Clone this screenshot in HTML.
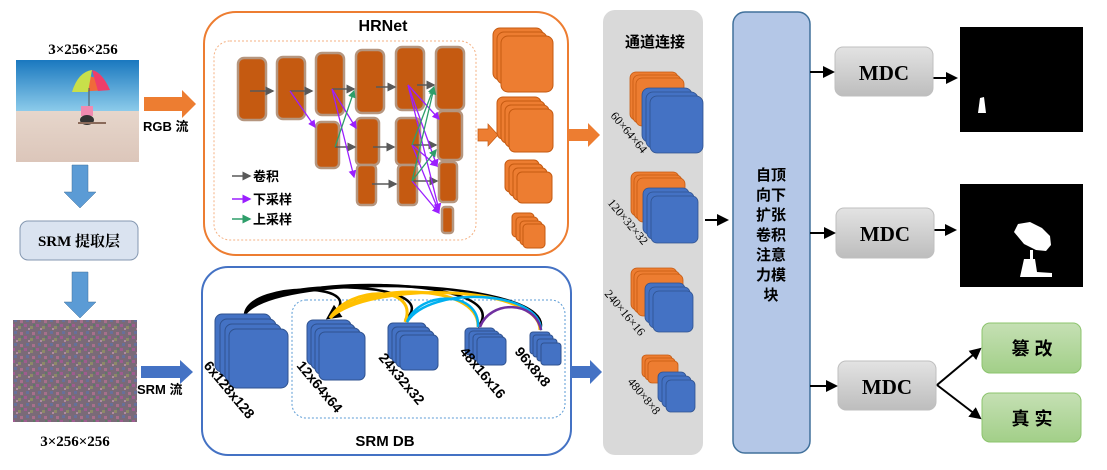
<!DOCTYPE html>
<html><head><meta charset="utf-8"><style>
html,body{margin:0;padding:0;background:#fff;}
svg{display:block;}
text{font-family:"Liberation Sans","Noto Sans CJK SC",sans-serif;font-weight:bold;}
.serif, .serif text, text.serif{font-family:"Liberation Serif","Noto Serif CJK SC",serif;}
.norm text{font-weight:normal;}
</style></head><body>
<svg width="1107" height="470" viewBox="0 0 1107 470" xmlns="http://www.w3.org/2000/svg">
<defs>
<marker id="ag" markerWidth="6" markerHeight="6" refX="5" refY="3" orient="auto"><path d="M0,0L6,3L0,6z" fill="#595959"/></marker>
<marker id="ap" markerWidth="6" markerHeight="6" refX="5" refY="3" orient="auto"><path d="M0,0L6,3L0,6z" fill="#9b1fff"/></marker>
<marker id="agr" markerWidth="6" markerHeight="6" refX="5" refY="3" orient="auto"><path d="M0,0L6,3L0,6z" fill="#2e9e6a"/></marker>
<marker id="ak" markerWidth="6" markerHeight="6" refX="5" refY="3" orient="auto"><path d="M0,0L6,3L0,6z" fill="#000"/></marker>
<linearGradient id="gm" x1="0" y1="0" x2="0" y2="1"><stop offset="0" stop-color="#e3e3e3"/><stop offset="1" stop-color="#bdbdbd"/></linearGradient>
<linearGradient id="gg" x1="0" y1="0" x2="0" y2="1"><stop offset="0" stop-color="#c5e0b4"/><stop offset="1" stop-color="#a2cf88"/></linearGradient>
<linearGradient id="sky" x1="0" y1="0" x2="0" y2="1"><stop offset="0" stop-color="#1a78bf"/><stop offset="0.5" stop-color="#8ccbea"/><stop offset="0.5" stop-color="#e6d6cb"/><stop offset="1" stop-color="#dcc6ba"/></linearGradient>
<pattern id="noise" width="12" height="12" patternUnits="userSpaceOnUse">
<rect width="12" height="12" fill="#7a6a78"/><rect x="0" y="0" width="3" height="3" fill="#a05c90"/><rect x="6" y="2" width="3" height="3" fill="#8c8a68"/><rect x="2" y="7" width="3" height="3" fill="#67709a"/><rect x="8" y="8" width="3" height="3" fill="#a8708c"/><rect x="9" y="0" width="2" height="2" fill="#5e7a66"/><rect x="4" y="4" width="2" height="2" fill="#b08aa0"/></pattern>
</defs>

<!-- LEFT -->
<text x="83" y="54" text-anchor="middle" font-size="15" class="serif">3×256×256</text>
<rect x="16" y="60" width="123" height="102" fill="url(#sky)"/>
<path d="M72,92 Q86,62 110,90 Z" fill="#f06a3a"/><path d="M72,92 Q78,72 92,70 L88,92 Z" fill="#c8e04a"/><path d="M92,70 Q102,72 110,90 L98,91 Z" fill="#ee3e6a"/>
<line x1="89" y1="88" x2="89" y2="112" stroke="#555"/>
<rect x="81" y="106" width="12" height="10" fill="#f08ab0"/><ellipse cx="87" cy="120" rx="7" ry="5" fill="#333"/>
<rect x="78" y="122" width="28" height="2" fill="#8a6a5a"/>
<polygon points="72,165 88,165 88,192 96,192 80,208 64,192 72,192" fill="#5b9bd5" stroke="#41719c" stroke-width="0.5"/>
<rect x="20" y="221" width="118" height="39" rx="8" fill="#dae3f0" stroke="#8497b0"/>
<text x="79" y="246" text-anchor="middle" font-size="15" class="serif">SRM 提取层</text>
<polygon points="72,272 88,272 88,302 96,302 80,318 64,302 72,302" fill="#5b9bd5" stroke="#41719c" stroke-width="0.5"/>
<rect x="13" y="320" width="124" height="102" fill="url(#noise)"/>
<text x="75" y="446" text-anchor="middle" font-size="15" class="serif">3×256×256</text>
<polygon points="144,97 182,97 182,90 196,104 182,118 182,111 144,111" fill="#ed7d31"/>
<text x="143" y="131" font-size="13">RGB 流</text>
<polygon points="141,366 180,366 180,360 193,372 180,384 180,378 141,378" fill="#4472c4"/>
<text x="137" y="394" font-size="13">SRM 流</text>

<!-- HRNet -->
<rect x="204" y="12" width="364" height="243" rx="32" fill="#fff" stroke="#ed7d31" stroke-width="2"/>
<text x="383" y="31" text-anchor="middle" font-size="16">HRNet</text>
<rect x="214" y="41" width="262" height="199" rx="16" fill="none" stroke="#f4b183" stroke-dasharray="2,2"/>
<g fill="#c55a11" stroke="#b5967f" stroke-width="2.5">
<rect x="238" y="58" width="28" height="62" rx="6"/>
<rect x="277" y="57" width="28" height="62" rx="6"/>
<rect x="316" y="53" width="28" height="62" rx="6"/>
<rect x="356" y="50" width="28" height="63" rx="6"/>
<rect x="396" y="47" width="28" height="63" rx="6"/>
<rect x="436" y="47" width="28" height="63" rx="6"/>
<rect x="316" y="122" width="23" height="46" rx="5"/>
<rect x="356" y="118" width="23" height="47" rx="5"/>
<rect x="396" y="118" width="24" height="47" rx="5"/>
<rect x="438" y="111" width="24" height="49" rx="5"/>
<rect x="357" y="165" width="19" height="40" rx="4"/>
<rect x="398" y="165" width="19" height="40" rx="4"/>
<rect x="439" y="162" width="18" height="40" rx="4"/>
<rect x="442" y="207" width="11" height="26" rx="3"/>
</g>
<g stroke="#595959" stroke-width="1.5" marker-end="url(#ag)">
<line x1="250" y1="91" x2="273" y2="91"/><line x1="290" y1="91" x2="312" y2="91"/>
<line x1="332" y1="89" x2="354" y2="89"/><line x1="376" y1="87" x2="395" y2="87"/>
<line x1="417" y1="85" x2="434" y2="85"/>
<line x1="335" y1="147" x2="355" y2="147"/><line x1="373" y1="147" x2="394" y2="147"/>
<line x1="413" y1="145" x2="436" y2="145"/><line x1="372" y1="184" x2="396" y2="184"/>
<line x1="412" y1="181" x2="437" y2="181"/>
</g>
<g stroke="#9b1fff" stroke-width="1.3" fill="none" marker-end="url(#ap)">
<line x1="290" y1="91" x2="315" y2="127"/><line x1="332" y1="89" x2="356" y2="128"/>
<line x1="332" y1="89" x2="354" y2="177"/><line x1="408" y1="85" x2="439" y2="119"/>
<line x1="408" y1="85" x2="437" y2="166"/><line x1="408" y1="85" x2="439" y2="210"/>
<line x1="412" y1="145" x2="437" y2="166"/><line x1="412" y1="145" x2="439" y2="212"/>
<line x1="412" y1="181" x2="439" y2="213"/>
</g>
<g stroke="#2e9e6a" stroke-width="1.3" fill="none" marker-end="url(#agr)">
<line x1="335" y1="147" x2="354" y2="91"/><line x1="412" y1="145" x2="434" y2="87"/>
<line x1="412" y1="181" x2="434" y2="88"/><line x1="412" y1="181" x2="436" y2="150"/>
</g>
<line x1="232" y1="176" x2="250" y2="176" stroke="#595959" stroke-width="1.5" marker-end="url(#ag)"/>
<text x="253" y="181" font-size="13">卷积</text>
<line x1="232" y1="199" x2="250" y2="199" stroke="#9b1fff" stroke-width="1.5" marker-end="url(#ap)"/>
<text x="253" y="204" font-size="13">下采样</text>
<line x1="232" y1="219" x2="250" y2="219" stroke="#2e9e6a" stroke-width="1.5" marker-end="url(#agr)"/>
<text x="253" y="224" font-size="13">上采样</text>
<g fill="#ed7d31" stroke="#c55a11" stroke-width="1">
<rect x="493" y="28" width="50" height="52" rx="7"/><rect x="497" y="32" width="50" height="52" rx="7"/><rect x="501" y="36" width="52" height="56" rx="7"/>
<rect x="497" y="97" width="44" height="42" rx="6"/><rect x="501" y="101" width="44" height="42" rx="6"/><rect x="505" y="105" width="44" height="42" rx="6"/><rect x="509" y="109" width="44" height="43" rx="6"/>
<rect x="505" y="160" width="34" height="32" rx="5"/><rect x="509" y="164" width="34" height="32" rx="5"/><rect x="513" y="168" width="34" height="32" rx="5"/><rect x="517" y="172" width="35" height="31" rx="5"/>
<rect x="512" y="213" width="22" height="24" rx="4"/><rect x="516" y="217" width="22" height="24" rx="4"/><rect x="520" y="221" width="22" height="24" rx="4"/><rect x="523" y="224" width="22" height="24" rx="4"/>
</g>
<polygon points="478,129 488,129 488,124 498,135 488,146 488,141 478,141" fill="#ed7d31" stroke="#c55a11" stroke-width="0.7"/>
<polygon points="569,129 588,129 588,123 600,135 588,147 588,141 569,141" fill="#ed7d31"/>

<!-- SRM DB -->
<rect x="202" y="267" width="369" height="188" rx="26" fill="#fff" stroke="#4472c4" stroke-width="2"/>
<rect x="292" y="300" width="273" height="118" rx="14" fill="none" stroke="#5b9bd5" stroke-dasharray="2,2"/>
<g stroke="#000" stroke-width="2.5" fill="none">
<path d="M245,314 C250,280 380,282 328,318" marker-end="url(#ak)"/>
<path d="M245,314 C260,275 450,280 405,320"/>
<path d="M245,314 C270,272 520,275 478,327"/>
<path d="M245,314 C280,270 560,280 540,330"/>
</g>
<g stroke="#ffc000" stroke-width="3" fill="none">
<path d="M330,318 C350,285 420,285 405,322"/><path d="M330,318 C360,282 480,282 478,327"/><path d="M330,318 C370,280 540,285 540,330"/>
</g>
<g stroke="#00b0f0" stroke-width="2.5" fill="none">
<path d="M407,322 C420,290 480,290 478,327"/><path d="M407,322 C430,285 540,290 541,330"/>
</g>
<path d="M480,327 C490,300 535,300 541,330" stroke="#7030a0" stroke-width="2.5" fill="none"/>
<g fill="#4472c4" stroke="#2f528f" stroke-width="1">
<rect x="215" y="314" width="56" height="58" rx="7"/><rect x="220" y="319" width="56" height="58" rx="7"/><rect x="225" y="324" width="56" height="58" rx="7"/><rect x="229" y="329" width="59" height="59" rx="7"/>
<rect x="307" y="320" width="44" height="45" rx="6"/><rect x="311" y="324" width="44" height="45" rx="6"/><rect x="315" y="328" width="45" height="46" rx="6"/><rect x="319" y="332" width="46" height="48" rx="6"/>
<rect x="388" y="323" width="38" height="36" rx="5"/><rect x="392" y="327" width="38" height="36" rx="5"/><rect x="396" y="331" width="38" height="36" rx="5"/><rect x="400" y="335" width="38" height="35" rx="5"/>
<rect x="465" y="328" width="30" height="27" rx="4"/><rect x="469" y="331" width="30" height="27" rx="4"/><rect x="473" y="334" width="30" height="27" rx="4"/><rect x="477" y="337" width="29" height="28" rx="4"/>
<rect x="530" y="332" width="20" height="22" rx="3"/><rect x="533" y="335" width="20" height="22" rx="3"/><rect x="537" y="339" width="20" height="22" rx="3"/><rect x="541" y="343" width="20" height="22" rx="3"/>
</g>
<g font-size="14">
<text transform="translate(203,366) rotate(50)">6x128x128</text>
<text transform="translate(296,366) rotate(50)">12x64x64</text>
<text transform="translate(378,358) rotate(50)">24x32x32</text>
<text transform="translate(459,352) rotate(50)">48x16x16</text>
<text transform="translate(514,352) rotate(50)">96x8x8</text>
</g>
<text x="385" y="446" text-anchor="middle" font-size="15">SRM DB</text>
<polygon points="572,366 590,366 590,360 602,372 590,384 590,378 572,378" fill="#4472c4"/>

<!-- concat -->
<rect x="603" y="10" width="100" height="445" rx="12" fill="#d9d9d9"/>
<text x="655" y="47" text-anchor="middle" font-size="15">通道连接</text>
<g stroke="#c55a11" fill="#ed7d31" stroke-width="0.8">
<rect x="630" y="72" width="48" height="48" rx="6"/><rect x="633" y="75" width="48" height="48" rx="6"/><rect x="636" y="78" width="48" height="48" rx="6"/>
<rect x="631" y="172" width="48" height="44" rx="6"/><rect x="634" y="175" width="48" height="44" rx="6"/><rect x="637" y="178" width="48" height="44" rx="6"/>
<rect x="631" y="268" width="46" height="42" rx="6"/><rect x="634" y="271" width="46" height="42" rx="6"/><rect x="637" y="274" width="46" height="42" rx="6"/>
<rect x="642" y="355" width="30" height="22" rx="4"/><rect x="645" y="358" width="30" height="22" rx="4"/><rect x="648" y="361" width="30" height="22" rx="4"/>
</g>
<g stroke="#2f528f" fill="#4472c4" stroke-width="0.8">
<rect x="642" y="88" width="50" height="54" rx="7"/><rect x="646" y="92" width="52" height="56" rx="7"/><rect x="650" y="96" width="53" height="57" rx="7"/>
<rect x="643" y="188" width="46" height="46" rx="6"/><rect x="647" y="192" width="47" height="47" rx="6"/><rect x="651" y="196" width="47" height="47" rx="6"/>
<rect x="645" y="283" width="40" height="40" rx="6"/><rect x="649" y="287" width="41" height="41" rx="6"/><rect x="653" y="291" width="40" height="41" rx="6"/>
<rect x="658" y="372" width="28" height="30" rx="5"/><rect x="662" y="376" width="29" height="31" rx="5"/><rect x="666" y="380" width="29" height="32" rx="5"/>
</g>
<g font-size="12" class="serif norm">
<text transform="translate(610,116) rotate(50)">60×64×64</text>
<text transform="translate(607,203) rotate(50)">120×32×32</text>
<text transform="translate(604,294) rotate(50)">240×16×16</text>
<text transform="translate(627,382) rotate(50)">480×8×8</text>
</g>
<line x1="705" y1="220" x2="727" y2="220" stroke="#000" stroke-width="2" marker-end="url(#ak)"/>

<!-- attention -->
<rect x="733" y="12" width="77" height="441" rx="12" fill="#b4c7e7" stroke="#41719c" stroke-width="1.5"/>
<g font-size="15" text-anchor="middle">
<text x="771" y="180">自顶</text><text x="771" y="200">向下</text><text x="771" y="220">扩张</text><text x="771" y="240">卷积</text><text x="771" y="260">注意</text><text x="771" y="280">力模</text><text x="771" y="300">块</text>
</g>

<!-- MDC -->
<g stroke="#000" stroke-width="2" marker-end="url(#ak)">
<line x1="810" y1="72" x2="833" y2="72"/><line x1="933" y1="78" x2="956" y2="78"/>
<line x1="810" y1="233" x2="834" y2="233"/><line x1="934" y1="230" x2="955" y2="230"/>
<line x1="810" y1="386" x2="836" y2="386"/>
<line x1="937" y1="385" x2="980" y2="349"/><line x1="937" y1="385" x2="980" y2="418"/>
</g>
<g fill="url(#gm)" stroke="#bfbfbf">
<rect x="835" y="47" width="98" height="49" rx="8"/><rect x="836" y="208" width="98" height="50" rx="8"/><rect x="838" y="361" width="98" height="49" rx="8"/>
</g>
<g font-size="21" class="serif" text-anchor="middle">
<text x="884" y="80">MDC</text><text x="885" y="241">MDC</text><text x="887" y="394">MDC</text>
</g>
<rect x="960" y="27" width="123" height="105" fill="#000"/>
<path d="M978,113 L980,98 L984,97 L986,113 Z" fill="#fff"/>
<rect x="960" y="184" width="123" height="103" fill="#000"/>
<path d="M1014,232 L1018,224 L1030,222 L1042,228 L1050,236 L1051,245 L1046,251 L1036,250 L1024,244 Z" fill="#fff"/>
<rect x="1030" y="250" width="3" height="9" fill="#fff"/>
<path d="M1024,259 L1035,259 L1037,272 L1052,273 L1052,277 L1020,277 Z" fill="#fff"/>
<g fill="url(#gg)" stroke="#8cc46d">
<rect x="982" y="323" width="99" height="50" rx="8"/><rect x="982" y="393" width="99" height="49" rx="8"/>
</g>
<g font-size="18" text-anchor="middle">
<text x="1032" y="355">篡 改</text><text x="1032" y="425">真 实</text>
</g>
</svg>
</body></html>
